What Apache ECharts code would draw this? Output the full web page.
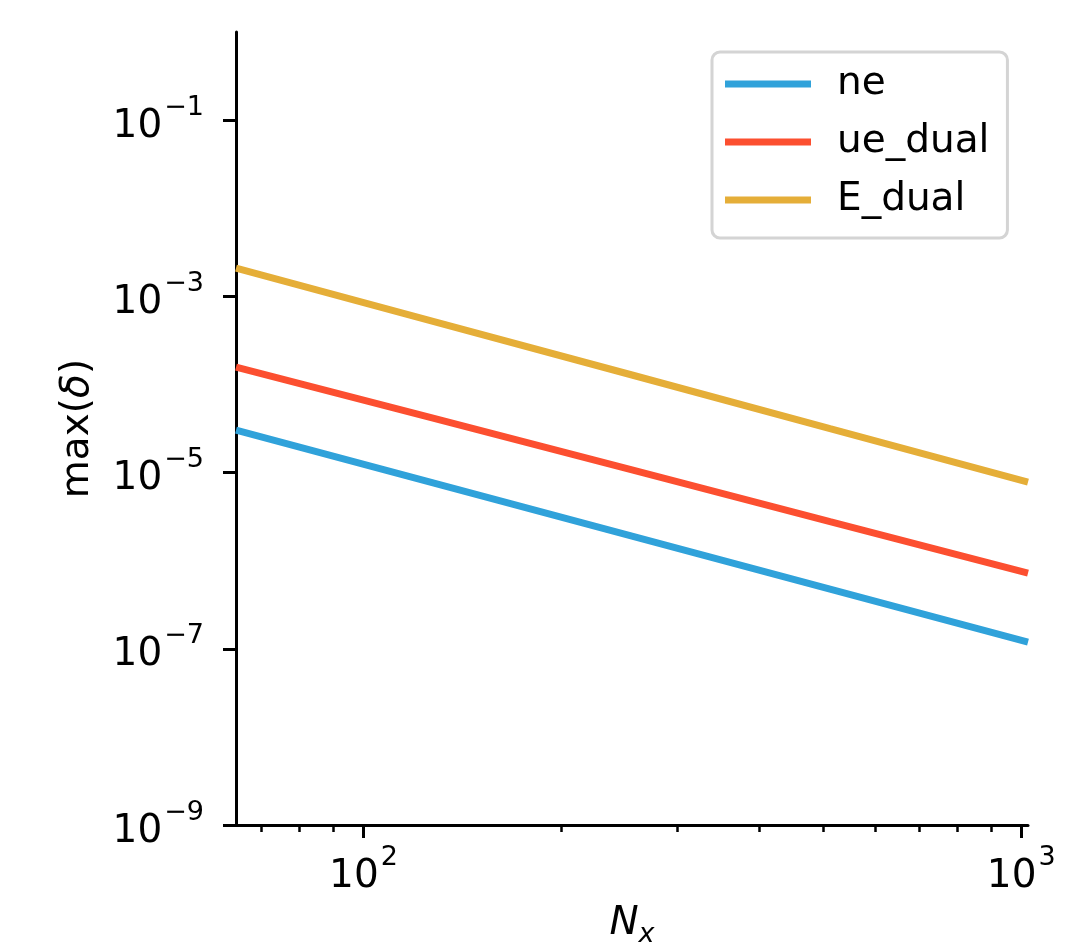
<!DOCTYPE html>
<html>
<head>
<meta charset="utf-8">
<script src="https://cdn.jsdelivr.net/npm/echarts@6/dist/echarts.min.js"></script>
<style>
  html, body { margin: 0; padding: 0; background: #fff; }
  #chart { width: 1082px; height: 943px; }
</style>
</head>
<body>
<div id="chart"></div>
<script>
// data (log-log)
const nx = [64, 128, 256, 512, 1024];
const ne = [3.03e-5, 7.59e-6, 1.90e-6, 4.75e-7, 1.19e-7];
const ueDual = [1.57e-4, 4.13e-5, 1.07e-5, 2.77e-6, 7.21e-7];
const eDual = [2.09e-3, 5.16e-4, 1.28e-4, 3.15e-5, 7.78e-6];
const seriesNames = ['ne', 'ue_dual', 'E_dual'];

// ticks
const xMajorTicks = [100, 1000];
const xMinorTicks = [70, 80, 90, 200, 300, 400, 500, 600, 700, 800, 900];
const yTicks = [1e-9, 1e-7, 1e-5, 1e-3, 1e-1];

const colors = ['#30a2da', '#fc4f30', '#e5ae38'];
const FONT = 'DejaVu Sans';

const powLabel = (v) => {
  const e = Math.round(Math.log10(v));
  return '{b|10}{s|' + (e < 0 ? '\u2212' + (-e) : e) + '}';
};

const powRich = {
  b: { fontFamily: FONT, fontSize: 39, lineHeight: 52, verticalAlign: 'bottom', color: '#000' },
  s: { fontFamily: FONT, fontSize: 27, lineHeight: 27, verticalAlign: 'top', color: '#000', padding: [0, 0, 0, 2] }
};

const chart = echarts.init(document.getElementById('chart'));

const toPairs = (ys) => nx.map((x, i) => [x, ys[i]]);

const option = {
  animation: false,
  backgroundColor: '#fff',
  grid: {
    left: 236,
    right: 54,
    top: 32,
    bottom: 118,
    containLabel: false,
    outerBoundsMode: 'none'
  },
  legend: {
    orient: 'vertical',
    left: 712,
    top: 52,
    padding: [10, 18, 16, 13],
    itemWidth: 86,
    itemHeight: 7,
    itemGap: 14,
    icon: 'rect',
    backgroundColor: '#fff',
    borderColor: '#d4d4d4',
    borderWidth: 3,
    borderRadius: 8,
    textStyle: {
      fontFamily: FONT,
      fontSize: 39,
      lineHeight: 44,
      color: '#000',
      padding: [0, 0, 0, 21]
    },
    data: seriesNames
  },
  xAxis: [
    {
      type: 'log',
      logBase: 10,
      min: 64,
      max: 1024,
      position: 'bottom',
      name: '{n|N}{x|x}',
      nameLocation: 'middle',
      nameGap: 79,
      nameMoveOverlap: false,
      nameTextStyle: {
        rich: {
          n: { fontFamily: FONT, fontSize: 39, fontStyle: 'italic', lineHeight: 44, verticalAlign: 'top', color: '#000' },
          x: { fontFamily: FONT, fontSize: 27, fontStyle: 'italic', lineHeight: 26, verticalAlign: 'bottom', color: '#000' }
        }
      },
      axisLine: { show: true, lineStyle: { color: '#000', width: 3 } },
      axisTick: { show: true, length: 13, lineStyle: { color: '#000', width: 3 }, customValues: xMajorTicks },
      axisLabel: { show: true, margin: 19, customValues: xMajorTicks, formatter: powLabel, rich: powRich },
      splitLine: { show: false },
      minorTick: { show: false },
      minorSplitLine: { show: false }
    },
    {
      type: 'log',
      logBase: 10,
      min: 64,
      max: 1024,
      position: 'bottom',
      axisLine: { show: false },
      axisTick: { show: true, length: 7, lineStyle: { color: '#000', width: 2.5 }, customValues: xMinorTicks },
      axisLabel: { show: false },
      splitLine: { show: false }
    }
  ],
  yAxis: {
    type: 'log',
    logBase: 10,
    min: 1e-9,
    max: 1,
    name: '{n|max(}{d|\u03b4}{n|)}',
    nameLocation: 'middle',
    nameRotate: 90,
    nameGap: 136,
    nameMoveOverlap: false,
    nameTextStyle: {
      rich: {
        n: { fontFamily: FONT, fontSize: 39, lineHeight: 44, color: '#000' },
        d: { fontFamily: FONT, fontSize: 39, fontStyle: 'italic', lineHeight: 44, color: '#000' }
      }
    },
    axisLine: { show: true, lineStyle: { color: '#000', width: 3 } },
    axisTick: { show: true, length: 13, lineStyle: { color: '#000', width: 3 }, customValues: yTicks },
    axisLabel: { show: true, margin: 32, customValues: yTicks, formatter: powLabel, rich: powRich },
    splitLine: { show: false },
    minorTick: { show: false }
  },
  series: [
    { name: seriesNames[0], data: toPairs(ne), color: colors[0] },
    { name: seriesNames[1], data: toPairs(ueDual), color: colors[1] },
    { name: seriesNames[2], data: toPairs(eDual), color: colors[2] }
  ].map(s => ({
    type: 'line',
    name: s.name,
    data: s.data,
    xAxisIndex: 0,
    yAxisIndex: 0,
    showSymbol: false,
    symbol: 'none',
    clip: true,
    itemStyle: { color: s.color },
    lineStyle: { color: s.color, width: 7, cap: 'butt' },
    emphasis: { disabled: true }
  }))
};

chart.setOption(option);
</script>
</body>
</html>
